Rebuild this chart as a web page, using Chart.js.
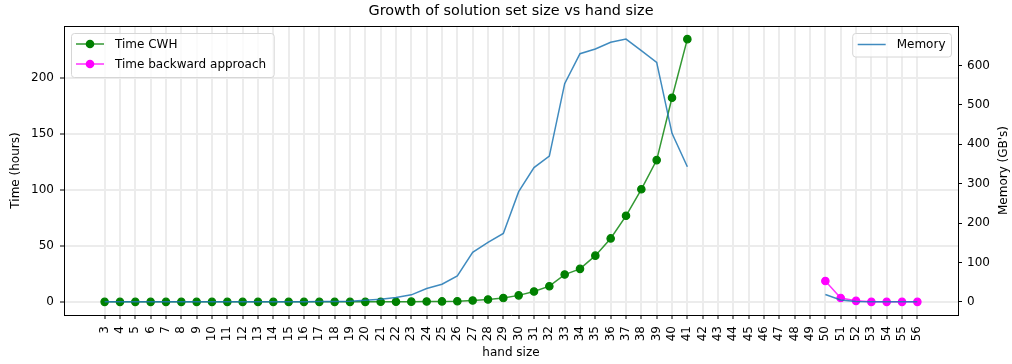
<!DOCTYPE html>
<html>
<head>
<meta charset="utf-8">
<title>Growth of solution set size vs hand size</title>
<script src="https://cdn.jsdelivr.net/npm/chart.js@4.4.1/dist/chart.umd.min.js"></script>
<style>
  html, body { margin: 0; padding: 0; background: #fff; }
  canvas { display: block; }
</style>
</head>
<body>
<canvas id="chart" width="1012" height="364"></canvas>
<script>
// Hand sizes shown on the x axis
const handSizes = [3, 4, 5, 6, 7, 8, 9, 10, 11, 12, 13, 14, 15, 16, 17, 18, 19, 20,
  21, 22, 23, 24, 25, 26, 27, 28, 29, 30, 31, 32, 33, 34, 35, 36, 37, 38, 39, 40,
  41, 42, 43, 44, 45, 46, 47, 48, 49, 50, 51, 52, 53, 54, 55, 56];

// Time for the CWH method (hours), hand sizes 3..41
const cwhHands = [3, 4, 5, 6, 7, 8, 9, 10, 11, 12, 13, 14, 15, 16, 17, 18, 19, 20,
  21, 22, 23, 24, 25, 26, 27, 28, 29, 30, 31, 32, 33, 34, 35, 36, 37, 38, 39, 40, 41];
const cwhHours = [0, 0, 0, 0, 0, 0, 0, 0, 0, 0, 0, 0, 0, 0, 0, 0, 0, 0,
  0.1, 0.1, 0.2, 0.3, 0.4, 0.6, 1.2, 2.1, 3.4, 5.8, 9.3, 14.0, 24.4, 29.5,
  41.3, 56.7, 76.9, 100.6, 126.7, 182.4, 234.8];

// Time for the backward approach (hours), hand sizes 50..56
const backwardHands = [50, 51, 52, 53, 54, 55, 56];
const backwardHours = [18.6, 3.5, 0.9, 0, 0, 0, 0];

// Memory used (GB), one entry per hand size; null where nothing was measured
const memoryGB = [0.2, 0.2, 0.2, 0.2, 0.3, 0.3, 0.3, 0.4, 0.4, 0.5, 0.5, 0.6, 0.7,
  0.8, 1.0, 1.2, 1.8, 4, 7, 11, 18, 34, 45, 66, 126, 151, 174, 280, 341, 370,
  554, 630, 642, 659, 667, 638, 608, 428, 343,
  null, null, null, null, null, null, null, null,
  19, 5, 1, 0.3, 0.2, 0.2, 0.2];

// Tick values on the two value axes
const timeTicks = [0, 50, 100, 150, 200];
const memoryTicks = [0, 100, 200, 300, 400, 500, 600];

const FONT = "'DejaVu Sans', 'Liberation Sans', sans-serif";
const GRID = '#ececec';
const COLORS = {
  memory: 'rgba(31,119,180,0.85)',
  cwh: '#008000', cwhLine: 'rgba(0,128,0,0.8)',
  backward: '#ff00ff', backwardLine: 'rgba(255,0,255,0.8)'
};

// 5% margin around the data, like the default autoscaling
function padded(values) {
  const v = values.filter(x => x !== null);
  const lo = Math.min(...v), hi = Math.max(...v), m = (hi - lo) * 0.05;
  return { min: lo - m, max: hi + m };
}
const xRange = padded(handSizes);
const timeRange = padded(cwhHours.concat(backwardHours));
const memRange = padded(memoryGB);

const toPoints = (xs, ys) => xs.map((x, i) => ({ x: x, y: ys[i] }));

// Legends, top spine and right-hand axis title
const decorations = {
  id: 'decorations',
  afterDraw(chart) {
    const { ctx, chartArea: a } = chart;
    ctx.save();

    // top spine
    ctx.strokeStyle = '#000';
    ctx.lineWidth = 1;
    ctx.beginPath();
    ctx.moveTo(a.left, Math.round(a.top) + 0.5);
    ctx.lineTo(a.right + 1, Math.round(a.top) + 0.5);
    ctx.stroke();

    // right axis title, reading bottom to top
    ctx.save();
    ctx.translate(1003.5, (a.top + a.bottom) / 2);
    ctx.rotate(-Math.PI / 2);
    ctx.font = '12px ' + FONT;
    ctx.fillStyle = '#000';
    ctx.textAlign = 'center';
    ctx.textBaseline = 'middle';
    ctx.fillText("Memory (GB's)", 0, 0);
    ctx.restore();

    ctx.font = '12px ' + FONT;
    const ds = chart.data.datasets;

    function frame(x, y, w, h) {
      const r = 3;
      ctx.beginPath();
      ctx.moveTo(x + r, y);
      ctx.lineTo(x + w - r, y);
      ctx.quadraticCurveTo(x + w, y, x + w, y + r);
      ctx.lineTo(x + w, y + h - r);
      ctx.quadraticCurveTo(x + w, y + h, x + w - r, y + h);
      ctx.lineTo(x + r, y + h);
      ctx.quadraticCurveTo(x, y + h, x, y + h - r);
      ctx.lineTo(x, y + r);
      ctx.quadraticCurveTo(x, y, x + r, y);
      ctx.closePath();
      ctx.fillStyle = 'rgba(255,255,255,0.8)';
      ctx.fill();
      ctx.strokeStyle = '#d6d6d6';
      ctx.lineWidth = 1;
      ctx.stroke();
    }

    function entry(d, x, y) {
      ctx.strokeStyle = d.borderColor;
      ctx.lineWidth = d.borderWidth;
      ctx.beginPath();
      ctx.moveTo(x, y);
      ctx.lineTo(x + 28, y);
      ctx.stroke();
      if (d.pointRadius > 0) {
        ctx.fillStyle = d.pointBackgroundColor;
        ctx.beginPath();
        ctx.arc(x + 14, y, d.pointRadius + d.pointBorderWidth / 2, 0, Math.PI * 2);
        ctx.fill();
      }
      ctx.fillStyle = '#000';
      ctx.textAlign = 'left';
      ctx.textBaseline = 'middle';
      ctx.fillText(d.label, x + 39, y + 0.5);
    }

    // left legend: the two time series
    const timeSets = [ds[1], ds[2]];
    const lw = 43.5 + Math.max(...timeSets.map(d => ctx.measureText(d.label).width)) + 8;
    const lx = Math.round(a.left) + 7.5, ly = Math.round(a.top) + 7.5;
    frame(lx, ly, lw, 44);
    entry(timeSets[0], lx + 4.5, ly + 10.5);
    entry(timeSets[1], lx + 4.5, ly + 30.5);

    // right legend: memory
    const rw = 43 + ctx.measureText(ds[0].label).width + 7;
    const rx = Math.round(a.right) - 6.5 - rw, ry = Math.round(a.top) + 7.5;
    frame(rx, ry, rw, 23.5);
    entry(ds[0], rx + 5, ry + 11);

    ctx.restore();
  }
};

new Chart(document.getElementById('chart'), {
  type: 'line',
  data: {
    datasets: [
      {
        label: 'Memory',
        data: toPoints(handSizes, memoryGB),
        yAxisID: 'yMem',
        borderColor: COLORS.memory,
        backgroundColor: COLORS.memory,
        borderWidth: 1.5,
        pointRadius: 0,
        pointBorderWidth: 0,
        spanGaps: false,
        tension: 0
      },
      {
        label: 'Time CWH',
        data: toPoints(cwhHands, cwhHours),
        yAxisID: 'yTime',
        borderColor: COLORS.cwhLine,
        backgroundColor: COLORS.cwh,
        borderWidth: 1.5,
        pointRadius: 3.7,
        pointBorderWidth: 1.2,
        pointBackgroundColor: COLORS.cwh,
        pointBorderColor: COLORS.cwh,
        tension: 0
      },
      {
        label: 'Time backward approach',
        data: toPoints(backwardHands, backwardHours),
        yAxisID: 'yTime',
        borderColor: COLORS.backwardLine,
        backgroundColor: COLORS.backward,
        borderWidth: 1.5,
        pointRadius: 3.7,
        pointBorderWidth: 1.2,
        pointBackgroundColor: COLORS.backward,
        pointBorderColor: COLORS.backward,
        tension: 0
      }
    ]
  },
  options: {
    responsive: false,
    animation: false,
    devicePixelRatio: 1,
    layout: { padding: 0 },
    plugins: {
      legend: { display: false },
      tooltip: { enabled: false },
      title: {
        display: true,
        fullSize: false,
        text: 'Growth of solution set size vs hand size',
        color: '#000',
        font: { family: FONT, size: 14.4, weight: 'normal' },
        padding: { top: 3, bottom: 5.72 }
      }
    },
    scales: {
      x: {
        type: 'linear',
        min: xRange.min,
        max: xRange.max,
        afterBuildTicks: s => { s.ticks = handSizes.map(v => ({ value: v })); },
        afterFit: s => { s.height = 49; },
        ticks: {
          autoSkip: false,
          minRotation: 90,
          maxRotation: 90,
          padding: 7,
          color: '#000',
          font: { family: FONT, size: 12 },
          callback: v => String(v)
        },
        grid: { color: GRID, lineWidth: 2, tickColor: '#000', tickWidth: 1, tickLength: 4 },
        border: { display: true, color: '#000', width: 1 },
        title: {
          display: true,
          text: 'hand size',
          color: '#000',
          font: { family: FONT, size: 12 },
          padding: { top: 0, bottom: 3.8 }
        }
      },
      yTime: {
        type: 'linear',
        position: 'left',
        min: timeRange.min,
        max: timeRange.max,
        afterBuildTicks: s => { s.ticks = timeTicks.map(v => ({ value: v })); },
        afterFit: s => { s.width = 64; },
        ticks: {
          padding: 6,
          color: '#000',
          font: { family: FONT, size: 12 },
          callback: v => String(v)
        },
        grid: { color: GRID, lineWidth: 2, tickColor: '#000', tickWidth: 1, tickLength: 4 },
        border: { display: true, color: '#000', width: 1 },
        title: {
          display: true,
          text: 'Time (hours)',
          color: '#000',
          font: { family: FONT, size: 12 },
          padding: { top: 9, bottom: 0 }
        }
      },
      yMem: {
        type: 'linear',
        position: 'right',
        min: memRange.min,
        max: memRange.max,
        afterBuildTicks: s => { s.ticks = memoryTicks.map(v => ({ value: v })); },
        afterFit: s => { s.width = 54; },
        ticks: {
          padding: 5,
          color: '#000',
          font: { family: FONT, size: 12 },
          callback: v => String(v)
        },
        grid: { drawOnChartArea: false, tickColor: '#000', tickWidth: 1, tickLength: 4 },
        border: { display: true, color: '#000', width: 1 },
        title: { display: false }
      }
    }
  },
  plugins: [decorations]
});
</script>
</body>
</html>
